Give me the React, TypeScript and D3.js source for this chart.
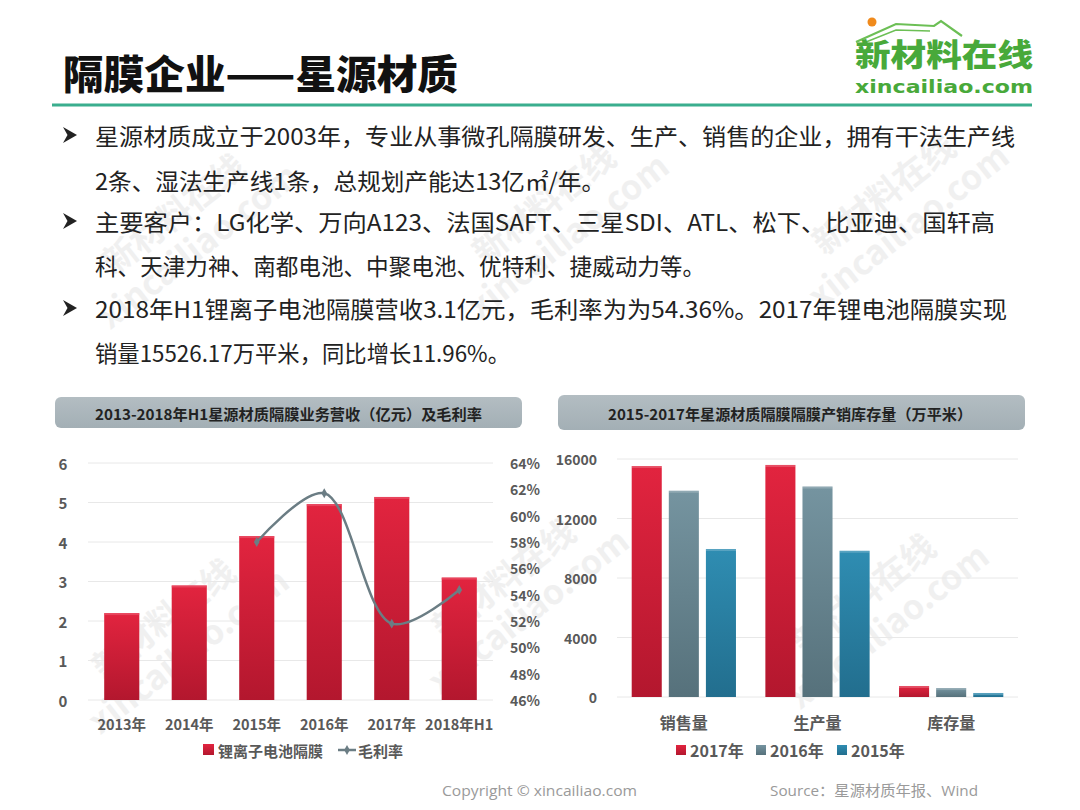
import React from "react";
import * as d3 from "d3";

const years = ["2013年", "2014年", "2015年", "2016年", "2017年", "2018年H1"];
const revenue = [2.2, 2.9, 4.15, 4.96, 5.14, 3.1];
const marginYears = ["2015年", "2016年", "2017年", "2018年H1"];
const margin = [0.58, 0.617, 0.518, 0.5436];
const leftTicks = [0, 1, 2, 3, 4, 5, 6];
const rightTicks = [0.46, 0.48, 0.5, 0.52, 0.54, 0.56, 0.58, 0.6, 0.62, 0.64];

const categories = ["销售量", "生产量", "库存量"];
const seriesNames = ["2017年", "2016年", "2015年"];
const s2017 = [15526, 15600, 740];
const s2016 = [13866, 14150, 600];
const s2015 = [9950, 9830, 270];
const volTicks = [0, 4000, 8000, 12000, 16000];

const bulletLines = [
  { text: "星源材质成立于2003年，专业从事微孔隔膜研发、生产、销售的企业，拥有干法生产线", end: 1015, arrow: true },
  { text: "2条、湿法生产线1条，总规划产能达13亿㎡/年。", end: 605, arrow: false },
  { text: "主要客户：LG化学、万向A123、法国SAFT、三星SDI、ATL、松下、比亚迪、国轩高", end: 995, arrow: true },
  { text: "科、天津力神、南都电池、中聚电池、优特利、捷威动力等。", end: 705, arrow: false },
  { text: "2018年H1锂离子电池隔膜营收3.1亿元，毛利率为为54.36%。2017年锂电池隔膜实现", end: 1007, arrow: true },
  { text: "销量15526.17万平米，同比增长11.96%。", end: 510, arrow: false },
];
const bulletY = [135, 180, 221, 265, 308, 352];

const CJK = "'Noto Sans CJK SC', 'Noto Sans', sans-serif";
const AX = "#595959";

export default function App() {
  // left chart
  const xL = d3.scaleBand<string>().domain(years).range([88, 493]).paddingInner(0.48).paddingOuter(0.24);
  const yL = d3.scaleLinear().domain([0, 6]).range([700, 463]);
  const yR = d3.scaleLinear().domain([0.46, 0.64]).range([700, 463]);
  const linePts = marginYears.map((y, i) => [xL(y)! + xL.bandwidth() / 2, yR(margin[i])] as [number, number]);
  const lineGen = d3.line().curve(d3.curveCatmullRom.alpha(0.5));
  const linePath = lineGen(linePts) || "";

  // right chart
  const xC = d3.scaleBand<string>().domain(categories).range([617, 1018]).paddingInner(0.22).paddingOuter(0.11);
  const xS = d3.scaleBand<string>().domain(seriesNames).range([0, xC.bandwidth()]).paddingInner(0.19).paddingOuter(0);
  const yV = d3.scaleLinear().domain([0, 16000]).range([697, 459]);
  const seriesVals = [s2017, s2016, s2015];
  const seriesGrad = ["gRed", "gGray", "gBlue"];
  const legendX = [676, 756, 837];

  const diamond = d3.symbol().type(d3.symbolDiamond).size(28)() || "";

  const watermarks = [
    [190, 235], [560, 225], [900, 215], [180, 640], [520, 600], [880, 615],
  ];

  return (
    <svg width={1080} height={810} style={{ position: "absolute", left: 0, top: 0, background: "#fff" }}>
      <defs>
        <linearGradient id="gRed" x1="0" y1="0" x2="0" y2="1">
          <stop offset="0" stopColor="#e2243f" />
          <stop offset="1" stopColor="#b3172e" />
        </linearGradient>
        <linearGradient id="gGray" x1="0" y1="0" x2="0" y2="1">
          <stop offset="0" stopColor="#7594a0" />
          <stop offset="1" stopColor="#56717b" />
        </linearGradient>
        <linearGradient id="gBlue" x1="0" y1="0" x2="0" y2="1">
          <stop offset="0" stopColor="#2f8db2" />
          <stop offset="1" stopColor="#226e8e" />
        </linearGradient>
        <linearGradient id="gBox" x1="0" y1="0" x2="0" y2="1">
          <stop offset="0" stopColor="#b3bdc2" />
          <stop offset="1" stopColor="#a3afb5" />
        </linearGradient>
      </defs>

      {/* watermarks */}
      {watermarks.map(([cx, cy], i) => (
        <g key={"wm" + i} transform={`translate(${cx},${cy}) rotate(-38)`} opacity={0.5}>
          <text x={0} y={-14} textAnchor="middle" fontFamily={CJK} fontWeight={700} fontSize={34} fill="#e3e3e3">新材料在线</text>
          <text x={0} y={26} textAnchor="middle" fontFamily={CJK} fontWeight={700} fontSize={34} fill="#e3e3e3">xincailiao.com</text>
        </g>
      ))}

      {/* header */}
      <text x={63} y={89} fontFamily={CJK} fontWeight={900} fontSize={40} fill="#111" textLength={395} lengthAdjust="spacingAndGlyphs">隔膜企业——星源材质</text>
      <line x1={52} x2={1032} y1={105} y2={105} stroke="#3aae8e" strokeWidth={3} />

      {/* logo */}
      <circle cx={872} cy={22} r={4.5} fill="#f08a1c" />
      <polyline points="856,42 896,24 934,26 941,21 962,36" fill="none" stroke="#6cbf55" strokeWidth={2.2} />
      <polyline points="866,42 896,30 930,31" fill="none" stroke="#6cbf55" strokeWidth={1.5} />
      <text x={855} y={66} fontFamily={CJK} fontWeight={900} fontSize={31} fill="#48a93a" textLength={178} lengthAdjust="spacingAndGlyphs">新材料在线</text>
      <text x={855} y={93} fontFamily="'DejaVu Sans', sans-serif" fontWeight={700} fontSize={18} fill="#48a93a" textLength={178} lengthAdjust="spacingAndGlyphs">xincailiao.com</text>

      {/* bullets */}
      {bulletLines.map((b, i) => (
        <g key={"b" + i}>
          {b.arrow && (
            <path d={`M63,${bulletY[i] - 8} L77,${bulletY[i]} L63,${bulletY[i] + 8} L67.5,${bulletY[i]} Z`} fill="#222" />
          )}
          <text x={95} y={bulletY[i]} dominantBaseline="central" fontFamily={CJK} fontSize={23} fill="#222" textLength={b.end - 95} lengthAdjust="spacingAndGlyphs">{b.text}</text>
        </g>
      ))}

      {/* left chart title */}
      <rect x={55} y={397} width={467} height={31} rx={6} fill="url(#gBox)" />
      <text x={95} y={413} dominantBaseline="central" fontFamily={CJK} fontWeight={700} fontSize={15} fill="#222" textLength={387} lengthAdjust="spacingAndGlyphs">2013-2018年H1星源材质隔膜业务营收（亿元）及毛利率</text>

      {/* left grid */}
      {leftTicks.map((t) => (
        <line key={"lg" + t} x1={88} x2={493} y1={yL(t)} y2={yL(t)} stroke="#e8e8e8" strokeWidth={1} />
      ))}
      {leftTicks.map((t) => (
        <text key={"lt" + t} x={63} y={yL(t)} dominantBaseline="central" textAnchor="middle" fontFamily={CJK} fontWeight={700} fontSize={15} fill={AX}>{t}</text>
      ))}
      {rightTicks.map((t) => (
        <text key={"rt" + t} x={510} y={yR(t)} dominantBaseline="central" textAnchor="start" fontFamily={CJK} fontWeight={700} fontSize={14} fill={AX}>{Math.round(t * 100) + "%"}</text>
      ))}
      {years.map((y, i) => (
        <g key={"bar" + i}>
          <rect x={xL(y)} y={yL(revenue[i])} width={xL.bandwidth()} height={yL(0) - yL(revenue[i])} fill="url(#gRed)" />
          <rect x={xL(y)} y={yL(revenue[i])} width={xL.bandwidth()} height={2} fill="#ec5a70" opacity={0.6} />
        </g>
      ))}
      {years.map((y, i) => (
        <text key={"xl" + i} x={xL(y)! + xL.bandwidth() / 2} y={723} dominantBaseline="central" textAnchor="middle" fontFamily={CJK} fontWeight={700} fontSize={14.5} fill={AX}>{y}</text>
      ))}
      <path d={linePath} fill="none" stroke="#6b7d84" strokeWidth={2.5} />
      {linePts.map((p, i) => (
        <path key={"mk" + i} d={diamond} transform={`translate(${p[0]},${p[1]})`} fill="#6b7d84" />
      ))}
      {/* left legend */}
      <rect x={203} y={744} width={11} height={11} fill="url(#gRed)" />
      <text x={218} y={750} dominantBaseline="central" fontFamily={CJK} fontWeight={700} fontSize={15} fill={AX}>锂离子电池隔膜</text>
      <line x1={338} x2={356} y1={750} y2={750} stroke="#6b7d84" strokeWidth={2.5} />
      <path d={diamond} transform="translate(347,750)" fill="#6b7d84" />
      <text x={358} y={750} dominantBaseline="central" fontFamily={CJK} fontWeight={700} fontSize={15} fill={AX}>毛利率</text>

      {/* right chart title */}
      <rect x={558} y={395} width={467} height={35} rx={6} fill="url(#gBox)" />
      <text x={608} y={413} dominantBaseline="central" fontFamily={CJK} fontWeight={700} fontSize={15} fill="#222" textLength={364} lengthAdjust="spacingAndGlyphs">2015-2017年星源材质隔膜隔膜产销库存量（万平米）</text>

      {volTicks.map((t) => (
        <line key={"vg" + t} x1={617} x2={1018} y1={yV(t)} y2={yV(t)} stroke="#e8e8e8" strokeWidth={1} />
      ))}
      {volTicks.map((t) => (
        <text key={"vt" + t} x={597} y={yV(t)} dominantBaseline="central" textAnchor="end" fontFamily={CJK} fontWeight={700} fontSize={14} fill={AX}>{t}</text>
      ))}
      {categories.map((c, ci) => (
        <g key={"cat" + ci}>
          {seriesNames.map((s, si) => {
            const v = seriesVals[si][ci];
            return (
              <g key={"vb" + si}>
                <rect x={xC(c)! + xS(s)!} y={yV(v)} width={xS.bandwidth()} height={yV(0) - yV(v)} fill={`url(#${seriesGrad[si]})`} />
                <rect x={xC(c)! + xS(s)!} y={yV(v)} width={xS.bandwidth()} height={2} fill="#ffffff" opacity={0.2} />
              </g>
            );
          })}
          <text x={xC(c)! + xC.bandwidth() / 2} y={722} dominantBaseline="central" textAnchor="middle" fontFamily={CJK} fontWeight={700} fontSize={16} fill={AX}>{c}</text>
        </g>
      ))}
      {seriesNames.map((s, si) => (
        <g key={"lg2" + si}>
          <rect x={legendX[si]} y={745} width={10} height={10} fill={`url(#${seriesGrad[si]})`} />
          <text x={legendX[si] + 14} y={750} dominantBaseline="central" fontFamily={CJK} fontWeight={700} fontSize={16} fill={AX}>{s}</text>
        </g>
      ))}

      {/* footer */}
      <text x={442} y={790} dominantBaseline="central" fontFamily="'Open Sans', 'Noto Sans CJK SC', sans-serif" fontSize={15} fill="#9a9a9a" textLength={195} lengthAdjust="spacingAndGlyphs">Copyright © xincailiao.com</text>
      <text x={770} y={790} dominantBaseline="central" fontFamily="'Open Sans', 'Noto Sans CJK SC', sans-serif" fontSize={15} fill="#9a9a9a" textLength={208} lengthAdjust="spacingAndGlyphs">Source：星源材质年报、Wind</text>
    </svg>
  );
}
